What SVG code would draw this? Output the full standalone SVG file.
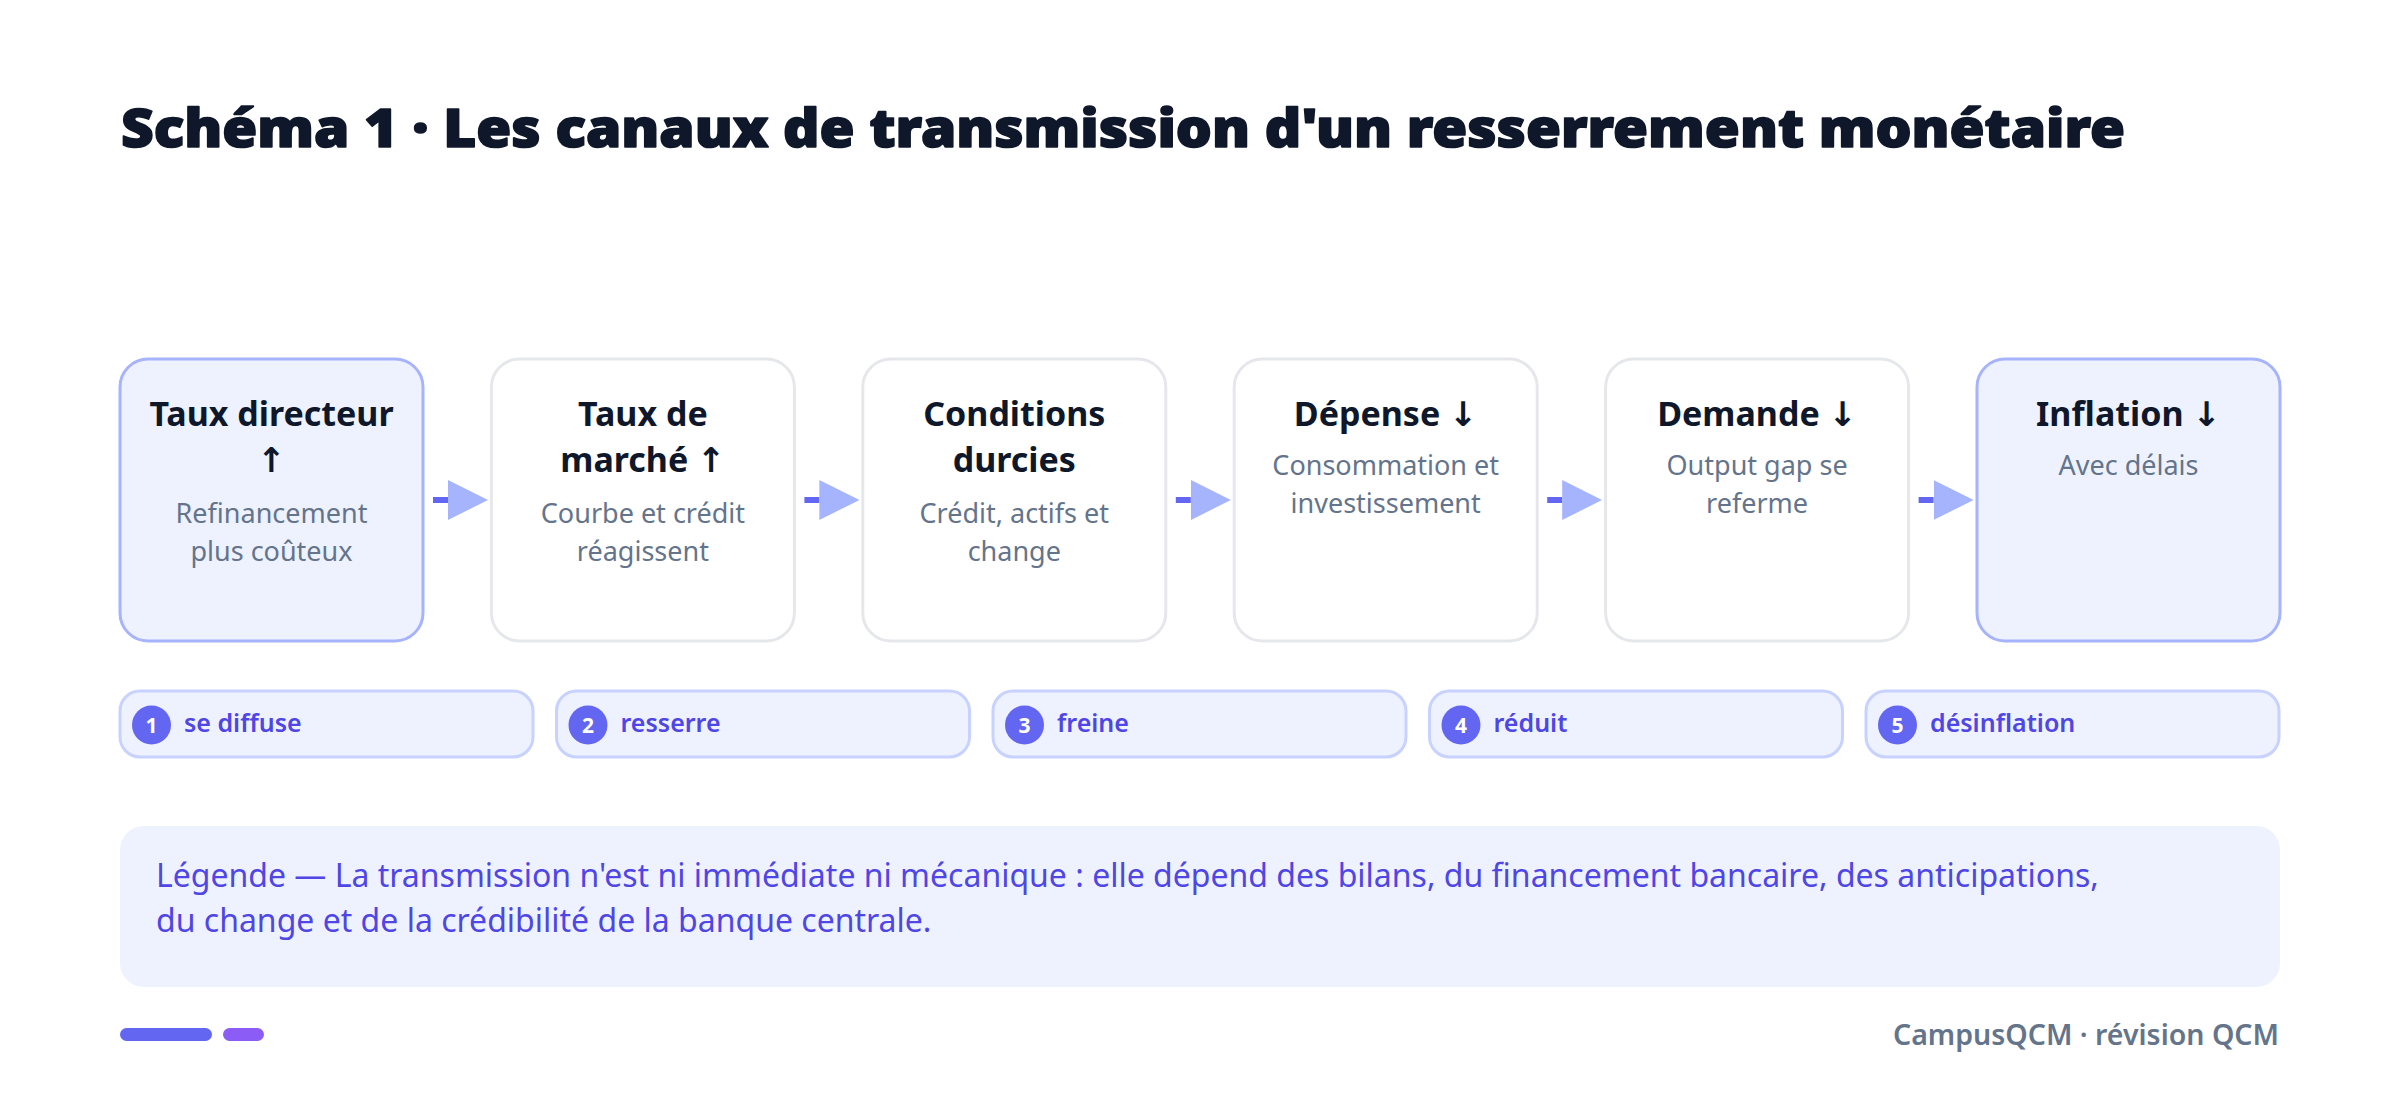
<svg xmlns="http://www.w3.org/2000/svg" width="2400" height="1096" viewBox="0 0 2400 1096">
<style>
.title{font-family:"Noto Sans","DejaVu Sans",sans-serif;font-weight:900;font-size:53px;fill:#0F172A;stroke:#0F172A;stroke-width:1.6;stroke-linejoin:round}
.nt{font-family:"Noto Sans","DejaVu Sans",sans-serif;font-weight:700;font-size:34px;fill:#0F172A;text-anchor:middle}
.ns{font-family:"Noto Sans","DejaVu Sans",sans-serif;font-weight:400;font-size:27px;fill:#64748B;text-anchor:middle}
.box{fill:#FFFFFF;stroke:#E5E7EB;stroke-width:3}
.box.hl{fill:#EEF2FF;stroke:#A5B4FC}
.pill{fill:#EEF2FF;stroke:#C7D2FE;stroke-width:3}
.num{fill:#6366F1}
.numt{font-family:"Noto Sans","DejaVu Sans",sans-serif;font-weight:700;font-size:21px;fill:#FFFFFF;text-anchor:middle}
.pt{font-family:"Noto Sans","DejaVu Sans",sans-serif;font-weight:600;font-size:25px;fill:#4F46E5}
.leg{font-family:"Noto Sans","DejaVu Sans",sans-serif;font-weight:400;font-size:32px;fill:#4F46E5}
.foot{font-family:"Noto Sans","DejaVu Sans",sans-serif;font-weight:600;font-size:28.5px;fill:#64748B;text-anchor:end}
.conn{stroke:#6366F1;stroke-width:6;fill:none}
</style>
<defs>
<marker id="ah" markerUnits="userSpaceOnUse" markerWidth="40" markerHeight="40" viewBox="0 0 40 40" refX="0" refY="20" orient="auto">
<path d="M0,0 L40,20 L0,40 Z" fill="#A5B4FC"/>
</marker>
</defs>
<rect width="2400" height="1096" fill="#FFFFFF"/>
<text class="title" x="121" y="147" textLength="2004" lengthAdjust="spacingAndGlyphs">Schéma 1 · Les canaux de transmission d'un resserrement monétaire</text>

<g id="node1">
<rect class="box hl" x="120" y="359" width="303" height="282" rx="28"/>
<text class="nt" x="271.5" y="426">Taux directeur</text>
<text class="nt" x="271.5" y="472">↑</text>
<text class="ns" x="271.5" y="523">Refinancement</text>
<text class="ns" x="271.5" y="561">plus coûteux</text>
</g>
<g id="node2">
<rect class="box" x="491.4" y="359" width="303" height="282" rx="28"/>
<text class="nt" x="642.9" y="426">Taux de</text>
<text class="nt" x="642.9" y="472">marché ↑</text>
<text class="ns" x="642.9" y="523">Courbe et crédit</text>
<text class="ns" x="642.9" y="561">réagissent</text>
</g>
<g id="node3">
<rect class="box" x="862.8" y="359" width="303" height="282" rx="28"/>
<text class="nt" x="1014.3" y="426">Conditions</text>
<text class="nt" x="1014.3" y="472">durcies</text>
<text class="ns" x="1014.3" y="523">Crédit, actifs et</text>
<text class="ns" x="1014.3" y="561">change</text>
</g>
<g id="node4">
<rect class="box" x="1234.2" y="359" width="303" height="282" rx="28"/>
<text class="nt" x="1385.7" y="426">Dépense ↓</text>
<text class="ns" x="1385.7" y="475">Consommation et</text>
<text class="ns" x="1385.7" y="513">investissement</text>
</g>
<g id="node5">
<rect class="box" x="1605.6" y="359" width="303" height="282" rx="28"/>
<text class="nt" x="1757.1" y="426">Demande ↓</text>
<text class="ns" x="1757.1" y="475">Output gap se</text>
<text class="ns" x="1757.1" y="513">referme</text>
</g>
<g id="node6">
<rect class="box hl" x="1977" y="359" width="303" height="282" rx="28"/>
<text class="nt" x="2128.5" y="426">Inflation ↓</text>
<text class="ns" x="2128.5" y="475">Avec délais</text>
</g>

<g id="connectors">
<line class="conn" x1="433" y1="500" x2="448" y2="500" marker-end="url(#ah)"/>
<line class="conn" x1="804.4" y1="500" x2="819.4" y2="500" marker-end="url(#ah)"/>
<line class="conn" x1="1175.8" y1="500" x2="1190.8" y2="500" marker-end="url(#ah)"/>
<line class="conn" x1="1547.2" y1="500" x2="1562.2" y2="500" marker-end="url(#ah)"/>
<line class="conn" x1="1918.6" y1="500" x2="1933.6" y2="500" marker-end="url(#ah)"/>
</g>

<g id="step1">
<rect class="pill" x="120" y="691" width="413" height="66" rx="20"/>
<circle class="num" cx="151.5" cy="725" r="19.5"/>
<text class="numt" x="151.5" y="732.5">1</text>
<text class="pt" x="184" y="732">se diffuse</text>
</g>
<g id="step2">
<rect class="pill" x="556.5" y="691" width="413" height="66" rx="20"/>
<circle class="num" cx="588" cy="725" r="19.5"/>
<text class="numt" x="588" y="732.5">2</text>
<text class="pt" x="620.5" y="732">resserre</text>
</g>
<g id="step3">
<rect class="pill" x="993" y="691" width="413" height="66" rx="20"/>
<circle class="num" cx="1024.5" cy="725" r="19.5"/>
<text class="numt" x="1024.5" y="732.5">3</text>
<text class="pt" x="1057" y="732">freine</text>
</g>
<g id="step4">
<rect class="pill" x="1429.5" y="691" width="413" height="66" rx="20"/>
<circle class="num" cx="1461" cy="725" r="19.5"/>
<text class="numt" x="1461" y="732.5">4</text>
<text class="pt" x="1493.5" y="732">réduit</text>
</g>
<g id="step5">
<rect class="pill" x="1866" y="691" width="413" height="66" rx="20"/>
<circle class="num" cx="1897.5" cy="725" r="19.5"/>
<text class="numt" x="1897.5" y="732.5">5</text>
<text class="pt" x="1930" y="732">désinflation</text>
</g>

<g id="legend">
<rect x="120" y="826" width="2160" height="161" rx="24" fill="#EEF2FF"/>
<text class="leg" x="156" y="887">Légende — La transmission n'est ni immédiate ni mécanique : elle dépend des bilans, du financement bancaire, des anticipations,</text>
<text class="leg" x="156" y="932">du change et de la crédibilité de la banque centrale.</text>
</g>

<g id="footer">
<rect x="120" y="1028" width="92" height="13" rx="6.5" fill="#6366F1"/>
<rect x="223" y="1028" width="41" height="13" rx="6.5" fill="#8B5CF6"/>
<text class="foot" x="2279" y="1045">CampusQCM · révision QCM</text>
</g>
</svg>
